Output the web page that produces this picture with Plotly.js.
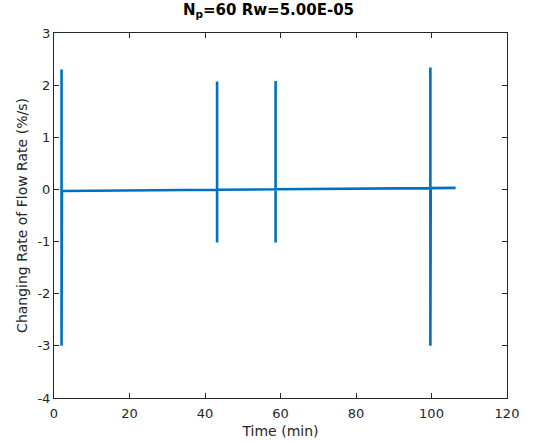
<!DOCTYPE html>
<html>
<head>
<meta charset="utf-8">
<script src="https://cdn.plot.ly/plotly-3.0.1.min.js"></script>
<style>html,body{margin:0;padding:0;background:#fff;}#chart{width:537px;height:445px;}</style>
</head>
<body>
<div id="chart"></div>
<script>
// Time (min) and changing rate of flow rate (%/s)
const timeMin = [2.0, 2.0, 2.0, 2.0, 2.0, 2.1, 43.2, 43.2, 43.2, 43.2, 58.7, 58.7, 58.7, 58.7, 99.7, 99.7, 99.7, 99.7, 99.7, 99.8, 106.4];
const rateVals = [-0.03, 2.3, -3.0, 0.1, -0.6, -0.03, -0.006, 2.07, -1.02, -0.006, 0.003, 2.08, -1.02, 0.003, 0.025, 2.34, -3.0, 1.0, -0.53, 0.025, 0.03];
const xTicks = [0, 20, 40, 60, 80, 100, 120];
const yTicks = [-4, -3, -2, -1, 0, 1, 2, 3];
const titleText = 'N<sub>p</sub>=60 Rw=5.00E-05';

const axisCommon = {
  showgrid: false, zeroline: false, showline: true, mirror: 'ticks',
  linecolor: '#262626', linewidth: 1, ticks: 'inside', ticklen: 5,
  tickcolor: '#262626', tickfont: {family: 'DejaVu Sans', size: 13, color: '#262626'}
};

Plotly.newPlot('chart', [{
  x: timeMin, y: rateVals, type: 'scatter', mode: 'lines',
  line: {color: '#0072BD', width: 2.6}, hoverinfo: 'skip'
}], {
  width: 537, height: 445,
  margin: {l: 54, r: 30, t: 33, b: 47},
  paper_bgcolor: '#fff', plot_bgcolor: '#fff',
  showlegend: false,
  title: {text: titleText, x: 0.5, xanchor: 'center', y: 0.99, yanchor: 'top',
    font: {family: 'DejaVu Sans', size: 15, color: '#000', weight: 'bold'}},
  xaxis: Object.assign({}, axisCommon, {range: [0, 120], tickvals: xTicks, ticktext: xTicks.map(String),
    ticklabelstandoff: 3,
    title: {text: 'Time (min)', standoff: 6, font: {family: 'DejaVu Sans', size: 14, color: '#262626'}}}),
  yaxis: Object.assign({}, axisCommon, {range: [-4, 3], tickvals: yTicks, ticktext: yTicks.map(String),
    title: {text: 'Changing Rate of Flow Rate (%/s)', standoff: 6, font: {family: 'DejaVu Sans', size: 14, color: '#262626'}}})
}, {displayModeBar: false, staticPlot: true});
</script>
</body>
</html>
